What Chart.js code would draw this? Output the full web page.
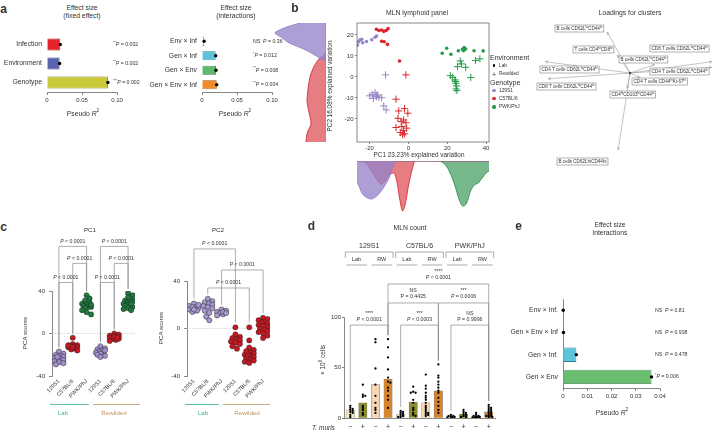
<!DOCTYPE html>
<html>
<head>
<meta charset="utf-8">
<script src="https://cdn.jsdelivr.net/npm/chart.js@4.4.1/dist/chart.umd.min.js"></script>
<style>
html, body { margin: 0; padding: 0; background: #fff; }
#fig { position: relative; width: 721px; height: 433px; overflow: hidden; font-family: "Liberation Sans", Arial, Helvetica, sans-serif; color: #333; }
canvas { position: absolute; }
.t { position: absolute; white-space: nowrap; line-height: 1; }
.t sup { font-size: 70%; line-height: 0; }
.sym { position: absolute; }
</style>
</head>
<body>
<div id="fig"></div>
<script>
// ---- a: effect sizes ----
const fixedTerms = ['Infection', 'Environment', 'Genotype'];
const fixedR2 = [0.019, 0.018, 0.087];
const fixedErr = [0.001, 0.001, 0.001];
const fixedP = ['^{**}~{P} = 0.002', '^{**}~{P} = 0.002', '^{***}~{P} = 0.002'];
const interTerms = ['Env × Inf', 'Gen × Inf', 'Gen × Env', 'Gen × Env × Inf'];
const interR2 = [0.003, 0.0195, 0.020, 0.021];
const interErr = [0.001, 0.001, 0.001, 0.001];
const interP = ['NS  ~{P} = 0.36', '^{*}~{P} = 0.012', '^{**}~{P} = 0.008', '^{**}~{P} = 0.004'];

// ---- b: PCA scores, [PC1, PC2] ----
const lab129 = [[-26.2, 15.2], [-25.7, 16.8], [-25.0, 17.6], [-24.1, 17.9], [-23.6, 16.3], [-21.6, 16.9], [-18.9, 17.7], [-17.2, 18.9], [-16.4, 19.5]];
const labB6 = [[-16.5, 22.7], [-15.2, 22.1], [-13.8, 22.4], [-12.7, 21.7], [-11.5, 22.1], [-10.5, 23.0], [-13.8, 17.0], [-12.5, 16.8], [-10.8, 15.5], [-4.6, 7.6]];
const labPWK = [[17.4, 11.3], [19.7, 13.7], [21.9, 10.8], [25.7, 12.5], [27.8, 13.2], [28.7, 14.0], [29.5, 13.3], [28.4, 12.5], [33.8, 12.5], [38.5, 12.4]];
const rw129 = [[-11.8, 1.0], [-19.9, -9.0], [-18.6, -8.3], [-17.2, -7.5], [-16.5, -9.4], [-15.2, -9.7], [-13.8, -9.9], [-18.1, -10.2], [-16.0, -8.6], [-12.7, -13.8], [-11.5, -15.7]];
const rwB6 = [[-1.3, 1.0], [-6.4, -10.6], [-5.0, -16.2], [-2.0, -15.1], [-0.3, -17.3], [-5.4, -19.7], [-3.7, -21.3], [-2.5, -20.5], [-1.3, -21.8], [-6.4, -24.1], [-3.4, -23.6], [-0.9, -24.4], [-4.2, -26.5], [-3.0, -27.6], [-2.0, -27.1], [-2.5, -25.6]];
const rwPWK = [[26.7, 7.6], [25.3, 4.9], [27.3, 6.2], [29.5, 4.6], [32.1, -0.3], [34.6, 7.8], [36.8, 8.6], [21.6, 0.6], [22.8, -0.2], [24.0, -1.4], [24.5, -3.0], [24.8, -4.3], [24.5, -5.7], [25.0, -6.5], [24.2, -2.2]];

// ---- b: marginal densities (a.u.) ----
const pc1Dens129X = [-26.5, -26, -24, -22, -19, -17, -14, -12, -10, -8, -6, 41.5];
const pc1Dens129 = [22, 23, 32, 36, 38, 36, 30, 24, 17, 6, 0, 0];
const pc1DensB6X = [-26.5, -22, -19, -16.5, -14, -12, -10, -7.6, -6, -4.5, -3, -1.5, 0, 2, 3.5, 41.5];
const pc1DensB6 = [0, 2, 10, 18, 23, 20, 14, 12, 20, 38, 50, 42, 25, 8, 0, 0];
const pc1DensPWKX = [-26.5, 14, 18, 21, 24, 26, 28, 30, 32, 34, 36, 38, 40, 41.5];
const pc1DensPWK = [0, 0, 2, 10, 25, 38, 45, 42, 30, 24, 22, 17, 12, 10];
const pc2Dens129Y = [-31, 7, 9.5, 13, 16, 19, 21, 22, 24, 25.7];
const pc2Dens129 = [0, 0, 8, 21, 36, 45, 51, 48, 38, 26];
const pc2DensB6Y = [-31, -27, -22, -17, -11, -6, 0, 4, 8, 12, 25.7];
const pc2DensB6 = [20, 19, 15, 17, 19, 18, 16, 13, 8, 0, 0];

// ---- b: loadings ----
const loadNames = ['B cells CD62L^{lo}CD44^{lo}', 'T cells CD4^{hi}CD8^{lo}', 'CD8 T cells CD62L^{lo}CD44^{hi}', 'B cells CD62L^{hi}CD44^{lo}',
  'CD4 T cells CD62L^{lo}CD44^{hi}', 'CD4 T cells CD62L^{hi}CD44^{lo}', 'CD8 T cells CD62L^{hi}CD44^{lo}', 'CD4 T cells CD44^{hi}Ki-67^{hi}',
  'CD4^{hi}CD103^{hi}CD44^{lo}', 'B cells CD62LhiCD44hi'];
const loadPC1 = [-0.25, -0.14, 0.90, 0.27, -0.93, 0.90, -0.90, 0.11, -0.03, -0.13];
const loadPC2 = [0.43, 0.19, 0.12, 0.09, 0.12, 0.06, -0.06, -0.05, -0.16, -0.81];

// ---- c: PC scores per group ----
const pcGroups = ['129S1', 'C57BL/6', 'PWK/PhJ', '129S1', 'C57BL/6', 'PWK/PhJ'];
const pc1Scores = [
  [-17, -19, -20, -21, -22, -23, -24, -24, -25, -26, -27, -28, -29, -22],
  [-4, -10, -11, -12, -12, -13, -13, -14, -15, -16, -13, -11],
  [36, 33, 31, 29, 28, 27, 26, 25, 25, 24, 22, 20, 18, 27],
  [-12, -14, -15, -16, -17, -18, -18, -19, -20, -21, -22, -16],
  [0, -1, -2, -2, -3, -3, -4, -4, -5, -5, -6, -7, -3, -4],
  [38, 36, 34, 32, 31, 30, 29, 28, 27, 26, 25, 24, 23, 22, 30, 28]
];
const pc2Scores = [
  [21, 19, 18, 17, 16, 15, 14, 18, 20, 16],
  [25, 23, 22, 21, 20, 19, 18, 17, 15, 13, 10, 7],
  [16, 15, 14, 13, 12, 11, 14, 13],
  [1, -5, -7, -8, -9, -10, -11, -12, -13, -15, -17],
  [1, -10, -16, -18, -20, -21, -22, -23, -24, -25, -26, -27, -28, -29, -22, -19],
  [9, 8, 7, 6, 5, 4, 3, 2, 1, 0, -1, -2, -3, -4, -6, -8]
];
const pc1Tests = [[0, 2, '~{P} < 0.0001'], [1, 2, '~{P} < 0.0001'], [0, 1, '~{P} < 0.0001'], [3, 5, '~{P} < 0.0001'], [4, 5, '~{P} < 0.0001'], [3, 4, '~{P} < 0.0001']];
const pc2Tests = [[0, 3, '~{P} < 0.0001'], [2, 5, '~{P} < 0.0001'], [1, 4, '~{P} < 0.0001']];

// ---- d: MLN count ----
const mlnGroups = ['129S1', 'C57BL/6', 'PWK/PhJ'];
const mlnEnv = ['Lab', 'RW'];
const tMuris = ['−', '+', '−', '+', '−', '+', '−', '+', '−', '+', '−', '+'];
const mlnMean = [8, 15, 33, 38.5, 4, 15.5, 15, 27, 1.5, 3.8, 1.8, 6];
const mlnCells = [
  [12, 10, 9, 8, 7, 6, 5, 3, 1],
  [33, 23, 22, 21, 12, 10, 8, 5, 3],
  [78, 75, 49, 33, 22, 15, 10, 8, 5],
  [78, 70, 60, 48, 40, 36, 35, 30, 27, 22, 18, 10],
  [7, 6, 5, 4, 3, 2, 1, 1],
  [31, 26, 25, 25, 18, 15, 10, 8, 5, 3, 2],
  [43, 32, 29, 25, 22, 20, 18, 15, 12, 10, 8, 6, 5, 4, 3, 2],
  [53, 42, 40, 36, 33, 30, 27, 25, 20, 16, 12, 8, 5],
  [3, 2, 2, 1, 1, 0.5, 0.5],
  [8, 6, 5, 4, 3, 2, 1, 1],
  [5, 3, 2, 2, 1, 1, 0.5, 0.5, 0.3],
  [13, 11, 10, 9, 8, 7, 6, 5, 4, 3, 2, 2, 1, 1]
];
const mlnTests = [[3, 11, '****', '~{P} < 0.0001'], [3, 7, 'NS', 'P = 0.4435'], [7, 11, '***', '~{P} = 0.0006'],
  [0, 3, '****', '~{P} < 0.0001'], [4, 7, '***', '~{P} < 0.0003'], [8, 11, 'NS', 'P = 0.9996']];

// ---- e: interactions ----
const eTerms = ['Env × Inf.', 'Gen × Env × Inf', 'Gen × Inf.', 'Gen × Env'];
const eR2 = [0.0001, 0.0002, 0.0055, 0.0365];
const eP = ['NS  ~{P} = 0.81', 'NS  ~{P} = 0.938', 'NS  ~{P} = 0.478', '^{*}~{P} = 0.006'];

// ---- layout / style ----
const FAM = '"Liberation Sans", Arial, Helvetica, sans-serif';
const INK = '#333';
const AX = '#555';
const GENO = ['#9885c8', '#d9262d', '#279a4b'];
const PC1_FILL = ['#a18fce', '#c9161f', '#1b7a3c', '#a18fce', '#c9161f', '#1b7a3c'];
const PC2_FILL = ['#a898d2', '#a898d2', '#a898d2', '#c9161f', '#c9161f', '#c9161f'];
const MLN_FILL = ['#f3ebc0', '#8b8e2e', '#f7d6b6', '#d7842e'];
const pc1Levels = [82, 66, 48, 82, 66, 48];
const pc2Levels = [67, 49.3, 34.1];
const mlnLevels = [132.7, 113.9, 113.9, 92, 92, 92];
const loadBoxes = [[20, 7], [38, 28], [115, 27], [84, 38], [5, 48], [115, 50], [2, 65], [97, 60], [75, 73], [22, 140]];

Chart.defaults.font.family = FAM;
Chart.defaults.font.size = 6.5;
Chart.defaults.color = INK;

const fig = document.getElementById('fig');

function mk(x, y, w, h) {
  const c = document.createElement('canvas');
  c.width = w; c.height = h;
  c.style.cssText = `left:${x}px;top:${y}px;width:${w}px;height:${h}px;`;
  fig.appendChild(c);
  return c;
}

function txt(x, y, html, size, align, extra) {
  const d = document.createElement('div');
  d.className = 't';
  d.innerHTML = html;
  const tx = align === 'l' ? '0' : align === 'r' ? '-100%' : '-50%';
  d.style.cssText = `left:${x}px;top:${y}px;font-size:${size}px;transform:translate(${tx},-50%)${extra || ''};`;
  fig.appendChild(d);
}

function hline(x1, x2, y, color) {
  const d = document.createElement('div');
  d.className = 'sym';
  d.style.cssText = `left:${x1}px;top:${y}px;width:${x2 - x1}px;height:0;border-top:1px solid ${color};`;
  fig.appendChild(d);
}

function dot(x, y, r, color) {
  const d = document.createElement('div');
  d.className = 'sym';
  d.style.cssText = `left:${x - r}px;top:${y - r}px;width:${2 * r}px;height:${2 * r}px;border-radius:50%;background:${color};`;
  fig.appendChild(d);
}

// text with ^{sup} and ~{italic} parts, drawn on a canvas
function rich(ctx, s, x, y, size, align, measureOnly) {
  const segs = s.split(/(\^\{[^}]*\}|~\{[^}]*\})/).filter(p => p).map(p => {
    if (p.startsWith('^{')) return { t: p.slice(2, -1), f: `${size * 0.7}px ${FAM}`, dy: -size * 0.35 };
    if (p.startsWith('~{')) return { t: p.slice(2, -1), f: `italic ${size}px ${FAM}`, dy: 0 };
    return { t: p, f: `${size}px ${FAM}`, dy: 0 };
  });
  let w = 0;
  segs.forEach(g => { ctx.font = g.f; g.w = ctx.measureText(g.t).width; w += g.w; });
  if (measureOnly) return w;
  let cx = align === 'center' ? x - w / 2 : align === 'right' ? x - w : x;
  ctx.textAlign = 'left';
  ctx.textBaseline = 'middle';
  segs.forEach(g => { ctx.font = g.f; ctx.fillText(g.t, cx, y + g.dy); cx += g.w; });
  return w;
}

// simple beeswarm: x offsets (px) so dots do not pile up, capped at maxOff
function swarm(values, center, r, pxX, pxY, maxOff, step) {
  const placed = [];
  const out = [];
  const order = values.map((v, i) => i).sort((a, b) => values[b] - values[a]);
  const st = step || r;
  const cands = [0];
  for (let k = 1; k * st <= maxOff; k++) cands.push(k * st, -k * st);
  order.forEach(i => {
    const py = values[i] * pxY;
    let best = 0, bestD = -1;
    for (const c of cands) {
      const d = placed.reduce((m, p) => Math.min(m, Math.hypot(p.x - c, p.y - py)), Infinity);
      if (d >= 1.6 * r) { best = c; break; }
      if (d > bestD) { bestD = d; best = c; }
    }
    placed.push({ x: best, y: py });
    out[i] = { x: center + best / pxX, y: values[i] };
  });
  return out;
}

function base(extra) {
  return Object.assign({
    responsive: false, animation: false, devicePixelRatio: 1, events: [],
    plugins: { legend: { display: false }, tooltip: { enabled: false } }
  }, extra);
}

// ---------- horizontal effect-size bars ----------
function hbarNotes(notes, noteX, err) {
  return {
    id: 'hbarNotes',
    afterDatasetsDraw(chart) {
      const ctx = chart.ctx, xs = chart.scales.x, ds = chart.data.datasets[0];
      ctx.save();
      chart.getDatasetMeta(0).data.forEach((bar, i) => {
        const v = ds.data[i];
        ctx.strokeStyle = '#000'; ctx.lineWidth = 0.8;
        ctx.beginPath();
        ctx.moveTo(xs.getPixelForValue(v - err[i]), bar.y);
        ctx.lineTo(xs.getPixelForValue(v + err[i]), bar.y);
        ctx.stroke();
        ctx.fillStyle = '#000';
        ctx.beginPath(); ctx.arc(xs.getPixelForValue(v), bar.y, 1.7, 0, Math.PI * 2); ctx.fill();
        ctx.fillStyle = INK;
        rich(ctx, notes[i], noteX, bar.y, 5.2, 'left');
      });
      ctx.restore();
    }
  };
}

function hbar(canvas, labels, values, colors, borders, o) {
  return new Chart(canvas, {
    type: 'bar',
    data: { labels, datasets: [{ data: values, backgroundColor: colors, borderColor: borders, borderWidth: 0.8, barPercentage: 1, categoryPercentage: o.cat }] },
    options: base({
      indexAxis: 'y',
      layout: { padding: o.pad },
      scales: {
        x: {
          min: 0, max: o.max, afterFit: s => { s.height = o.xh; },
          ticks: { stepSize: o.step, font: { size: 6 }, padding: 1.5, callback: v => v === 0 ? '0' : (+v).toFixed(2) },
          grid: { drawOnChartArea: false, tickLength: 3, color: AX, lineWidth: 0.7 },
          border: { color: AX, width: 0.7 }
        },
        y: {
          afterFit: s => { s.width = o.yw; },
          ticks: { font: { size: 6.8 }, padding: 5 },
          grid: { display: false, drawTicks: false },
          border: { display: o.yBorder, color: AX, width: 0.7 }
        }
      }
    }),
    plugins: [hbarNotes(o.notes, o.noteX, o.err)]
  });
}

hbar(mk(0, 25, 165, 95), fixedTerms, fixedR2, ['#e5232b', '#5a63ae', '#c9c83a'], ['#8a1418', '#363c70', '#77771e'],
  { cat: 0.63, pad: { top: 10, right: 48 }, xh: 28, yw: 47, max: 0.1, step: 0.05, notes: fixedP, noteX: 113, err: fixedErr, yBorder: false });

hbar(mk(140, 25, 150, 95), interTerms, interR2, ['#ffffff', '#5ec4dc', '#5db96b', '#f08b2a'], ['#777', '#357a8a', '#357040', '#98561a'],
  { cat: 0.63, pad: { top: 3, right: 18 }, xh: 28, yw: 62, max: 0.1, step: 0.05, notes: interP, noteX: 113, err: interErr, yBorder: false });

// ---------- b: PCA scatter ----------
const frame = {
  id: 'frame',
  afterDraw(chart) {
    const { ctx, chartArea: a } = chart;
    ctx.save(); ctx.strokeStyle = AX; ctx.lineWidth = 0.7;
    ctx.strokeRect(a.left, a.top, a.right - a.left, a.bottom - a.top);
    ctx.restore();
  }
};
const xy = arr => arr.map(p => ({ x: p[0], y: p[1] }));
const labSet = (arr, c) => ({ data: xy(arr), pointStyle: 'circle', pointRadius: 1.8, backgroundColor: c, borderWidth: 0 });
const rwSet = (arr, c) => ({ data: xy(arr), pointStyle: 'cross', pointRadius: 3.6, borderColor: c, borderWidth: 1 });

new Chart(mk(330, 15, 165, 150), {
  type: 'scatter',
  data: { datasets: [labSet(lab129, GENO[0]), labSet(labB6, GENO[1]), labSet(labPWK, GENO[2]), rwSet(rw129, GENO[0]), rwSet(rwB6, GENO[1]), rwSet(rwPWK, GENO[2])] },
  options: base({
    layout: { padding: { top: 8, right: 6 } },
    scales: {
      x: {
        min: -26.5, max: 41.5, afterFit: s => { s.height = 23; },
        afterBuildTicks: s => { s.ticks = [-20, 0, 20, 40].map(v => ({ value: v })); },
        ticks: { font: { size: 6 }, padding: 1 },
        grid: { drawOnChartArea: false, tickLength: 2, color: AX, lineWidth: 0.7 }, border: { display: false }
      },
      y: {
        min: -31, max: 25.7, afterFit: s => { s.width = 27; },
        afterBuildTicks: s => { s.ticks = [-20, -10, 0, 10, 20].map(v => ({ value: v })); },
        ticks: { font: { size: 6 }, padding: 1.5 },
        grid: { drawOnChartArea: false, tickLength: 2, color: AX, lineWidth: 0.7 }, border: { display: false }
      }
    }
  }),
  plugins: [frame]
});

function dens(xs, ys, fill, line) {
  return { data: xs.map((x, i) => ({ x, y: ys[i] })), fill: 'origin', backgroundColor: fill, borderColor: line, borderWidth: 0.8, pointRadius: 0, cubicInterpolationMode: 'monotone' };
}
function sideDens(ys, xs, fill, line) {
  return { data: ys.map((y, i) => ({ x: xs[i], y })), fill: 'origin', backgroundColor: fill, borderColor: line, borderWidth: 0.8, pointRadius: 0, cubicInterpolationMode: 'monotone' };
}
const PUR_F = 'rgba(150,132,202,0.78)', RED_F = 'rgba(214,38,48,0.6)', GRN_F = 'rgba(36,138,70,0.62)';

// PC1 density under the scatter
new Chart(mk(330, 160, 165, 56), {
  type: 'line',
  data: { datasets: [dens(pc1Dens129X, pc1Dens129, PUR_F, '#8a78c4'), dens(pc1DensB6X, pc1DensB6, RED_F, '#d4202a'), dens(pc1DensPWKX, pc1DensPWK, GRN_F, '#1f8a45')] },
  options: base({
    layout: { padding: { left: 27, right: 6, top: 1, bottom: 0 } },
    scales: { x: { type: 'linear', display: false, min: -26.5, max: 41.5 }, y: { type: 'linear', display: false, reverse: true, min: 0, max: 55 } }
  })
});

// PC2 density left of the scatter
new Chart(mk(270, 15, 56, 150), {
  type: 'line',
  data: { datasets: [sideDens(pc2Dens129Y, pc2Dens129, PUR_F, '#8a78c4'), sideDens(pc2DensB6Y, pc2DensB6, RED_F, '#d4202a')] },
  options: base({
    indexAxis: 'y',
    layout: { padding: { top: 8, bottom: 23 } },
    scales: { x: { type: 'linear', display: false, reverse: true, min: 0, max: 56 }, y: { type: 'linear', display: false, min: -31, max: 25.7 } }
  })
});

// loadings
const loadPlugin = {
  id: 'loadLabels',
  afterDatasetsDraw(chart) {
    const { ctx, scales: { x, y } } = chart;
    const ox = x.getPixelForValue(0), oy = y.getPixelForValue(0);
    ctx.save();
    loadPC1.forEach((v, i) => {
      const ex = x.getPixelForValue(v), ey = y.getPixelForValue(loadPC2[i]);
      const a = Math.atan2(ey - oy, ex - ox);
      ctx.strokeStyle = '#9a9a9a'; ctx.lineWidth = 0.6;
      ctx.beginPath();
      ctx.moveTo(ex - 3 * Math.cos(a - 0.45), ey - 3 * Math.sin(a - 0.45));
      ctx.lineTo(ex, ey);
      ctx.lineTo(ex - 3 * Math.cos(a + 0.45), ey - 3 * Math.sin(a + 0.45));
      ctx.stroke();
    });
    loadNames.forEach((n, i) => {
      const [bx, by] = loadBoxes[i];
      const w = rich(ctx, n, 0, 0, 4.6, 'left', true);
      ctx.fillStyle = '#fff'; ctx.fillRect(bx, by, w + 3, 7);
      ctx.strokeStyle = '#666'; ctx.lineWidth = 0.5; ctx.strokeRect(bx, by, w + 3, 7);
      ctx.fillStyle = INK;
      rich(ctx, n, bx + 1.5, by + 3.9, 4.6, 'left');
    });
    ctx.fillStyle = '#444';
    ctx.beginPath(); ctx.arc(ox, oy, 1.2, 0, Math.PI * 2); ctx.fill();
    ctx.restore();
  }
};
new Chart(mk(535, 18, 186, 150), {
  type: 'scatter',
  data: { datasets: loadPC1.map((v, i) => ({ data: [{ x: 0, y: 0 }, { x: v, y: loadPC2[i] }], showLine: true, pointRadius: 0, borderColor: '#9a9a9a', borderWidth: 0.6 })) },
  options: base({
    scales: { x: { display: false, min: -1.044, max: 1 }, y: { display: false, min: -1, max: 0.58 } }
  }),
  plugins: [loadPlugin]
});

// ---------- c: PC1 / PC2 strip plots ----------
const zeroLine = {
  id: 'zeroLine',
  beforeDatasetsDraw(chart) {
    const { ctx, chartArea: a, scales: { y } } = chart;
    const py = y.getPixelForValue(0);
    ctx.save(); ctx.strokeStyle = '#b5b5b5'; ctx.lineWidth = 0.7; ctx.setLineDash([1, 1.5]);
    ctx.beginPath(); ctx.moveTo(a.left, py); ctx.lineTo(a.right, py); ctx.stroke();
    ctx.restore();
  }
};

function brackets(tests, levels, groups) {
  return {
    id: 'brackets',
    afterDraw(chart) {
      const { ctx, scales: { x, y } } = chart;
      ctx.save(); ctx.strokeStyle = '#8a8a8a'; ctx.lineWidth = 0.7;
      tests.forEach((t, k) => {
        const [a, b, label] = t;
        const yy = y.getPixelForValue(levels[k]);
        const xa = x.getPixelForValue(a), xb = x.getPixelForValue(b);
        const ya = y.getPixelForValue(Math.max(...groups[a]) + 4);
        const yb = y.getPixelForValue(Math.max(...groups[b]) + 4);
        ctx.beginPath(); ctx.moveTo(xa, ya); ctx.lineTo(xa, yy); ctx.lineTo(xb, yy); ctx.lineTo(xb, yb); ctx.stroke();
        ctx.fillStyle = INK;
        rich(ctx, label, (xa + xb) / 2, yy - 5, 5.2, 'center');
      });
      ctx.restore();
    }
  };
}

function pcChart(canvas, scores, fills, tests, levels, o) {
  return new Chart(canvas, {
    type: 'scatter',
    data: {
      datasets: scores.map((vals, g) => ({
        data: swarm(vals, g, 2.6, 13.8, o.ppu, 4.5, 1.5),
        pointRadius: 2.6, backgroundColor: fills[g], borderColor: '#262626', borderWidth: 0.5
      }))
    },
    options: base({
      layout: { padding: o.pad },
      scales: {
        x: {
          type: 'linear', min: -0.5, max: 5.5, afterFit: s => { s.height = 57; },
          afterBuildTicks: s => { s.ticks = pcGroups.map((_, i) => ({ value: i })); },
          ticks: { autoSkip: false, minRotation: 45, maxRotation: 45, font: { size: 5.5 }, padding: 2, callback: v => pcGroups[v] },
          grid: { display: false, drawTicks: false }, border: { display: false }
        },
        y: {
          min: -40, max: 40, afterFit: s => { s.width = o.yw; },
          afterBuildTicks: s => { s.ticks = [-40, 0, 40].map(v => ({ value: v })); },
          ticks: { font: { size: 6 }, padding: 4 },
          grid: { drawOnChartArea: false, tickLength: 3, color: AX, lineWidth: 0.7 },
          border: { color: AX, width: 0.7 }
        }
      }
    }),
    plugins: [zeroLine, brackets(tests, levels, scores)]
  });
}

pcChart(mk(20, 225, 140, 208), pc1Scores, PC1_FILL, pc1Tests, pc1Levels, { pad: { top: 66, right: 25 }, yw: 32, ppu: 85 / 80 });
pcChart(mk(160, 225, 120, 208), pc2Scores, PC2_FILL, pc2Tests, pc2Levels, { pad: { top: 56, right: 10 }, yw: 27, ppu: 95 / 80 });

// ---------- d: MLN count ----------
const mlnPlugin = {
  id: 'mlnAnno',
  afterDraw(chart) {
    const { ctx, scales: { x, y } } = chart;
    const px = i => x.getPixelForValue(i);
    ctx.save();
    ctx.strokeStyle = '#8a8a8a'; ctx.lineWidth = 0.7; ctx.fillStyle = INK;
    mlnGroups.forEach((g, k) => {
      const a = px(4 * k) - 5, b = px(4 * k + 3) + 5;
      ctx.beginPath(); ctx.moveTo(a, 33); ctx.lineTo(a, 27); ctx.lineTo(b, 27); ctx.lineTo(b, 33); ctx.stroke();
      rich(ctx, g, (a + b) / 2, 21, 7, 'center');
      mlnEnv.forEach((e, j) => {
        const i0 = 4 * k + 2 * j;
        rich(ctx, e, (px(i0) + px(i0 + 1)) / 2, 34, 5.5, 'center');
        ctx.beginPath(); ctx.moveTo(px(i0) - 4, 40); ctx.lineTo(px(i0 + 1) + 4, 40); ctx.stroke();
      });
    });
    mlnTests.forEach((t, k) => {
      const [a, b, stars, label] = t;
      const yy = y.getPixelForValue(mlnLevels[k]);
      const xa = px(a), xb = px(b);
      const ya = y.getPixelForValue(Math.max(...mlnCells[a]) + 4);
      const yb = y.getPixelForValue(Math.max(...mlnCells[b]) + 4);
      ctx.beginPath(); ctx.moveTo(xa, ya); ctx.lineTo(xa, yy); ctx.lineTo(xb, yy); ctx.lineTo(xb, yb); ctx.stroke();
      rich(ctx, stars, (xa + xb) / 2, yy - 12, 5.2, 'center');
      rich(ctx, label, (xa + xb) / 2, yy - 6, 5.2, 'center');
    });
    ctx.restore();
  }
};

new Chart(mk(320, 225, 200, 208), {
  type: 'bar',
  data: {
    datasets: [
      { type: 'scatter', order: 1, data: mlnCells.flatMap((vals, i) => swarm(vals, i, 1.2, 12.6, 1.01, 3.6)), pointRadius: 1.15, backgroundColor: '#000', borderWidth: 0 },
      { type: 'bar', order: 2, data: mlnMean.map((v, i) => ({ x: i, y: v })), backgroundColor: mlnMean.map((_, i) => MLN_FILL[i % 4]), borderColor: '#7a7a7a', borderWidth: 0.5, barThickness: 8.3 }
    ]
  },
  options: base({
    layout: { padding: { top: 92, right: 25 } },
    scales: {
      x: {
        type: 'linear', offset: false, min: -0.5, max: 11.5, afterFit: s => { s.height = 15; },
        afterBuildTicks: s => { s.ticks = tMuris.map((_, i) => ({ value: i })); },
        ticks: { autoSkip: false, maxRotation: 0, font: { size: 7 }, padding: 5, callback: v => tMuris[v] },
        grid: { display: false, drawTicks: false, offset: false }, border: { color: AX, width: 0.7 }
      },
      y: {
        min: 0, max: 100, afterFit: s => { s.width = 24; },
        afterBuildTicks: s => { s.ticks = [0, 50, 100].map(v => ({ value: v })); },
        ticks: { font: { size: 6 }, padding: 1 },
        grid: { drawOnChartArea: false, tickLength: 2, color: AX, lineWidth: 0.7 },
        border: { color: AX, width: 0.7 }
      }
    }
  }),
  plugins: [mlnPlugin]
});

// ---------- e ----------
hbar(mk(500, 290, 221, 130), eTerms, eR2, ['#ffffff', '#ffffff', '#5ec4dc', '#6abd6f'], ['#444', '#444', '#357a8a', '#3d7a45'],
  { cat: 0.65, pad: { top: 8, right: 61 }, xh: 32, yw: 63, max: 0.04, step: 0.01, notes: eP, noteX: 155, err: [0, 0, 0, 0], yBorder: true });

// ---------- text ----------
[['a', 3.5, 8.5], ['b', 295, 8], ['c', 3.5, 226.5], ['d', 311.5, 226], ['e', 518.5, 226]].forEach(p => {
  txt(p[1], p[2], `<b>${p[0]}</b>`, 12, 'c');
});
txt(82, 8, 'Effect size', 6.8, 'c'); txt(82, 16, '(fixed effect)', 6.8, 'c');
txt(236, 8, 'Effect size', 6.8, 'c'); txt(236, 16, '(interactions)', 6.8, 'c');
txt(83, 114, 'Pseudo <i>R</i><sup>2</sup>', 6.8, 'c');
txt(235, 114, 'Pseudo <i>R</i><sup>2</sup>', 6.8, 'c');

txt(417, 13, 'MLN lymphoid panel', 6.8, 'c');
txt(330, 86, 'PC2 16.08% explained variation', 6.4, 'c', ' rotate(-90deg)');
txt(419, 155, 'PC1 23.23% explained variation', 6.4, 'c');
txt(630, 13, 'Loadings for clusters', 6.8, 'c');

txt(490, 57, 'Environment', 7, 'l');
dot(494, 65.5, 1.1, '#000'); txt(499, 65.5, 'Lab', 4.8, 'l');
txt(494, 73.5, '+', 7, 'c'); txt(499, 74, 'Rewilded', 4.8, 'l');
txt(490, 82, 'Genotype', 7, 'l');
dot(494, 90.5, 1.7, GENO[0]); txt(499, 90.5, '129S1', 4.8, 'l');
dot(494, 98.5, 1.7, GENO[1]); txt(499, 98.5, 'C57BL/6', 4.8, 'l');
dot(494, 107, 1.7, GENO[2]); txt(499, 107, 'PWK/PhJ', 4.8, 'l');

txt(90, 230, 'PC1', 6.2, 'c');
txt(218, 230, 'PC2', 6.2, 'c');
txt(25, 333, 'PCA scores', 6.2, 'c', ' rotate(-90deg)');
txt(161, 328, 'PCA scores', 6.2, 'c', ' rotate(-90deg)');
hline(50, 89, 404, '#5fc49a'); hline(93, 140, 404, '#cfa87c');
txt(63, 413, 'Lab', 6.2, 'c', ';color:#3fb37f'); txt(114, 413, 'Rewilded', 6.2, 'c', ';color:#c0935f');
hline(185, 219, 404, '#5fc49a'); hline(223, 270, 404, '#cfa87c');
txt(203, 413, 'Lab', 6.2, 'c', ';color:#3fb37f'); txt(247, 413, 'Rewilded', 6.2, 'c', ';color:#c0935f');

txt(410, 228, 'MLN count', 6.8, 'c');
txt(323, 360, '× 10<sup>6</sup> cells', 6.5, 'c', ' rotate(-90deg)');
txt(312, 428, '<i>T. muris</i>', 6.5, 'l');

txt(610, 225, 'Effect size', 6.8, 'c'); txt(610, 233, 'interactions', 6.8, 'c');
txt(612, 413, 'Pseudo <i>R</i><sup>2</sup>', 6.8, 'c');
</script>
</body>
</html>
